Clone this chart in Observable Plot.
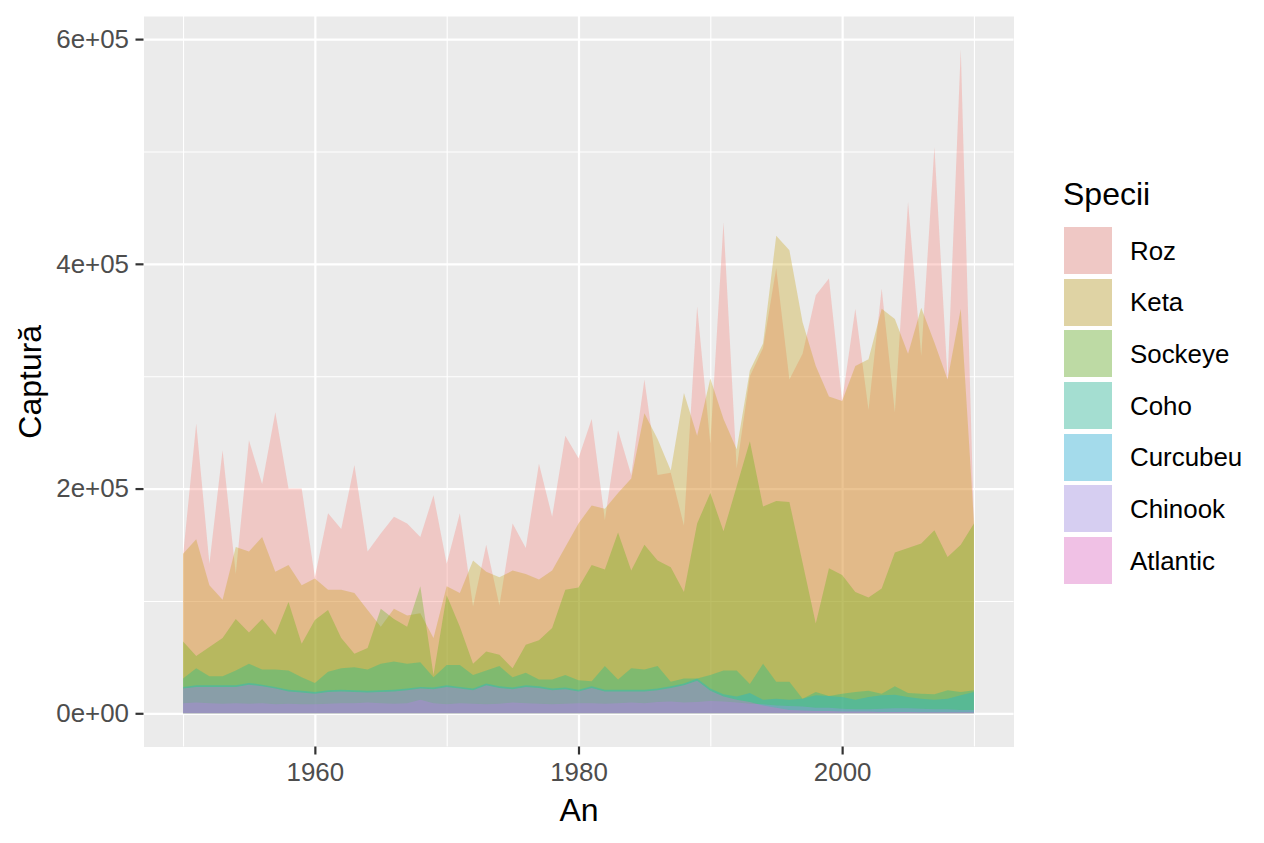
<!DOCTYPE html>
<html><head><meta charset="utf-8">
<script src="https://cdn.jsdelivr.net/npm/d3@7"></script>
<script src="https://cdn.jsdelivr.net/npm/@observablehq/plot@0.6"></script>
<style>
body{margin:0;background:#fff;}
#wrap{position:relative;width:1264px;height:843px;font-family:"Liberation Sans",Arial,Helvetica,sans-serif;}
#legend{position:absolute;left:0;top:0;width:1264px;height:843px;pointer-events:none;}
.lg-title{position:absolute;left:1063px;top:178px;font-size:32px;line-height:32px;color:#000;}
.lg-row{position:absolute;left:1064px;height:47px;display:flex;align-items:center;}
.lg-key{width:48px;height:47px;background:#EBEBEB;position:relative;}
.lg-key div{position:absolute;inset:0;}
.lg-lab{margin-left:18px;font-size:25.9px;line-height:25.9px;color:#000;padding-top:2px;}
</style></head><body><div id="wrap"></div>
<script>
const years = [1950,1951,1952,1953,1954,1955,1956,1957,1958,1959,
  1960,1961,1962,1963,1964,1965,1966,1967,1968,1969,
  1970,1971,1972,1973,1974,1975,1976,1977,1978,1979,
  1980,1981,1982,1983,1984,1985,1986,1987,1988,1989,
  1990,1991,1992,1993,1994,1995,1996,1997,1998,1999,
  2000,2001,2002,2003,2004,2005,2006,2007,2008,2009,2010];

const roz = [140000,258000,133000,234000,124000,243000,204000,268000,200000,200000,
  121000,178000,164000,221000,144000,160000,175000,169000,157000,194000,
  133000,178000,95000,150000,96000,169000,147000,222000,175000,247000,
  227000,262000,172000,252000,212000,297000,212000,214000,167000,362000,
  240000,437000,218000,300000,325000,396000,297000,320000,372000,387000,
  278000,360000,270000,378000,268000,455000,318000,504000,297000,591000,165000];

const keta = [142000,155000,114000,101000,148000,144000,157000,126000,132000,114000,
  120000,110000,110000,107000,92000,77000,93000,87000,89000,67000,
  113000,107000,136000,126000,121000,127000,124000,119000,127000,148000,
  169000,185000,182000,196000,209000,267000,244000,216000,285000,247000,
  298000,262000,235000,305000,329000,425000,412000,348000,309000,282000,
  278000,309000,315000,360000,351000,320000,361000,330000,297000,360000,170000];

const sockeye = [64000,51000,59000,67000,84000,72000,84000,70000,99000,62000,
  83000,92000,67000,53000,58000,93000,84000,77000,113000,34000,
  105000,77000,44000,55000,52000,40000,61000,65000,76000,110000,
  112000,132000,128000,161000,127000,150000,136000,130000,108000,169000,
  196000,162000,202000,242000,184000,189000,188000,134000,80000,129000,
  123000,108000,103000,111000,143000,147000,151000,163000,139000,150000,169000];

const coho = [31000,40000,33000,33000,38000,44000,39000,39000,38000,32000,
  27000,37000,40000,41000,39000,44000,46000,44000,45500,32000,
  43000,43000,34000,38000,42000,32000,36000,30000,30000,34000,
  29500,28500,42000,30000,40000,39000,42000,28000,31000,31000,
  34000,38000,38000,26000,44000,28000,28000,13000,19000,15500,
  17500,19000,20000,17500,24000,18000,17500,17000,20500,19000,20500];

const curcubeu = [23500,25000,25000,25000,25000,27000,25500,23500,21000,20000,
  19000,20500,21000,20500,20000,20500,21000,22000,23500,23000,
  25000,23500,22000,26500,24000,23000,25000,24000,22000,23000,
  21000,24000,21000,21000,21000,21000,22000,24000,26500,31000,
  22000,17000,15000,18000,12000,13000,12000,13000,16000,15500,
  14500,12000,14500,16000,16500,14500,13000,12000,13000,16000,19000];

const chinook = [9000,9500,9000,8500,9000,8500,9000,8000,8500,8000,
  8000,8500,9000,9000,9500,9000,8500,9000,12000,9000,
  8000,9000,8500,8000,8500,9500,9000,8500,8000,8500,
  9000,9000,8500,9000,9500,9000,10000,10500,9500,10000,
  11000,10500,9500,8500,8000,7000,6500,6000,5000,5000,
  4000,3500,3500,4000,4500,4500,4000,3500,3500,3000,3000];

const atlantic = [22000,23500,23500,23500,23500,25500,24000,22000,19500,18500,
  17500,19000,19500,19000,18500,19000,19500,20500,22000,21500,
  23500,22000,20500,25000,22500,21500,23500,22500,20500,21500,
  19500,22500,19500,19500,19500,19500,20500,22500,25000,29000,
  20000,15000,12000,10000,7000,5000,3000,2500,2000,2000,
  1500,1500,1500,1200,1200,1200,1000,1000,1000,1000,1000];

const speciesNames = ["Roz","Keta","Sockeye","Coho","Curcubeu","Chinook","Atlantic"];
const speciesColors = ["#F8766D","#C49A00","#53B400","#00C094","#00B6EB","#A58AFF","#FB61D7"];
const seriesValues = [roz, keta, sockeye, coho, curcubeu, chinook, atlantic];

const yTicks = [0, 200000, 400000, 600000];
const yTickLabels = ["0e+00","2e+05","4e+05","6e+05"];
const yMinor = [100000, 300000, 500000];
const xTicks = [1960, 1980, 2000];
const xTickLabels = ["1960","1980","2000"];
const xMinor = [1950, 1970, 1990, 2010];
const xTitle = "An";
const yTitle = "Captură";
const legendTitle = "Specii";
const alpha = 0.3;

const rows = speciesNames.map((s, k) => years.map((yr, i) => ({species: s, year: yr, value: seriesValues[k][i]})));

const font = '"Liberation Sans", Arial, Helvetica, sans-serif';

const chart = Plot.plot({
  width: 1264, height: 843,
  marginLeft: 143.5, marginRight: 250.5, marginTop: 16, marginBottom: 96.5,
  style: {fontFamily: font, background: "white", overflow: "visible"},
  x: {domain: [1947, 2013]},
  y: {domain: [-29550, 620550]},
  color: {domain: speciesNames, range: speciesColors},
  marks: [
    Plot.frame({fill: "#EBEBEB", stroke: "none"}),
    Plot.gridY(yMinor, {stroke: "white", strokeOpacity: 1, strokeWidth: 1.1}),
    Plot.gridX(xMinor, {stroke: "white", strokeOpacity: 1, strokeWidth: 1.1}),
    Plot.gridY(yTicks, {stroke: "white", strokeOpacity: 1, strokeWidth: 2.2}),
    Plot.gridX(xTicks, {stroke: "white", strokeOpacity: 1, strokeWidth: 2.2}),
    ...rows.map(r => Plot.areaY(r, {x: "year", y: "value", fill: "species", fillOpacity: alpha})),
    Plot.axisY(yTicks, {tickFormat: d => yTickLabels[yTicks.indexOf(d)], tickSize: 8, tickPadding: 7,
      fontSize: 25.9, stroke: "#333333", strokeWidth: 2.2, fill: "#4D4D4D", label: null}),
    Plot.axisX(xTicks, {tickFormat: d => xTickLabels[xTicks.indexOf(d)], tickSize: 8, tickPadding: 8,
      fontSize: 25.9, stroke: "#333333", strokeWidth: 2.2, fill: "#4D4D4D", label: null}),
    Plot.text([xTitle], {text: d => d, frameAnchor: "bottom", lineAnchor: "bottom", dy: 73.5, fontSize: 32, fill: "black"}),
    Plot.text([yTitle], {text: d => d, frameAnchor: "left", rotate: -90, lineAnchor: "top", textAnchor: "middle", dx: -125.5, fontSize: 32, fill: "black"})
  ]
});

const wrap = document.getElementById("wrap");
wrap.appendChild(chart);

const legend = document.createElement("div");
legend.id = "legend";
const t = document.createElement("div");
t.className = "lg-title";
t.textContent = legendTitle;
legend.appendChild(t);
speciesNames.forEach((s, k) => {
  const row = document.createElement("div");
  row.className = "lg-row";
  row.style.top = (227 + k * 51.67) + "px";
  const key = document.createElement("div");
  key.className = "lg-key";
  const inner = document.createElement("div");
  inner.style.background = speciesColors[k];
  inner.style.opacity = alpha;
  key.appendChild(inner);
  const lab = document.createElement("div");
  lab.className = "lg-lab";
  lab.textContent = s;
  row.appendChild(key);
  row.appendChild(lab);
  legend.appendChild(row);
});
wrap.appendChild(legend);
</script></body></html>
